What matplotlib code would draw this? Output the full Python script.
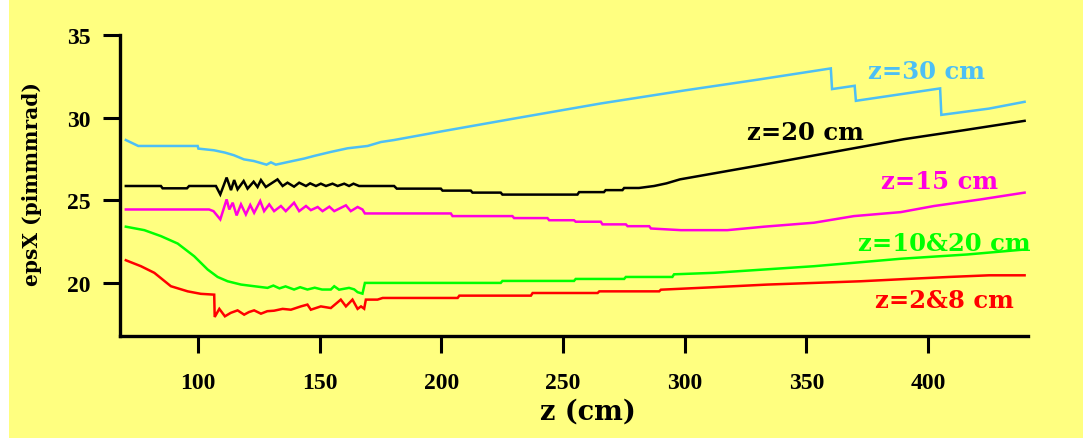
import matplotlib
matplotlib.use("Agg")
import matplotlib.pyplot as plt
from matplotlib.patches import Rectangle

# values
z30_x = [70.4, 75.5, 99.9, 100.2, 106.6, 111.1, 114.8, 118.9, 123.0, 128.2, 130.0, 132.0,
         138.9, 143.7, 147.8, 154.6, 161.5, 169.7, 175.2, 180.6, 200.0, 230.0, 265.5,
         300.0, 330.0, 360.0, 360.5, 369.8, 370.3, 404.9, 405.4, 425.0, 439.6]
z30_y = [28.65, 28.29, 28.29, 28.13, 28.03, 27.89, 27.73, 27.48, 27.38, 27.16, 27.30, 27.16,
         27.38, 27.53, 27.69, 27.93, 28.15, 28.29, 28.53, 28.65, 29.17, 29.95, 30.86,
         31.65, 32.30, 32.98, 31.73, 31.93, 31.02, 31.77, 30.17, 30.55, 30.96]

z20_x = [70.4, 84.8, 85.5, 95.5, 96.4, 107.4, 109.2, 111.8, 113.6, 114.9, 116.3, 118.8,
         120.4, 122.9, 124.5, 125.9, 127.9, 132.7, 134.8, 136.8, 139.5, 141.6, 144.4,
         146.1, 148.5, 150.5, 152.6, 155.3, 157.4, 160.1, 162.1, 163.9, 166.2, 180.6,
         181.7, 199.8, 200.5, 212.1, 212.8, 224.4, 225.1, 255.9, 256.6, 266.8, 267.5,
         274.4, 275.1, 281.2, 287.4, 292.5, 298.0, 330.0, 360.0, 390.0, 415.0, 439.6]
z20_y = [25.87, 25.87, 25.73, 25.73, 25.87, 25.87, 25.36, 26.38, 25.62, 26.23, 25.67, 26.17,
         25.71, 26.13, 25.81, 26.23, 25.81, 26.27, 25.87, 26.07, 25.83, 26.07, 25.87,
         26.03, 25.87, 26.01, 25.87, 26.01, 25.87, 26.01, 25.87, 26.01, 25.87, 25.87,
         25.71, 25.71, 25.59, 25.59, 25.47, 25.47, 25.35, 25.35, 25.50, 25.50, 25.62,
         25.62, 25.75, 25.75, 25.87, 26.03, 26.27, 27.10, 27.90, 28.70, 29.25, 29.81]

z15_x = [70.4, 104.6, 106.4, 109.2, 111.8, 112.9, 114.3, 115.9, 117.7, 119.7, 121.5,
         123.1, 125.6, 127.2, 129.3, 131.3, 134.1, 136.1, 139.5, 141.6, 144.4, 146.4,
         149.2, 151.2, 154.0, 156.0, 160.8, 162.8, 165.6, 167.6, 168.6, 203.9, 204.6,
         229.2, 229.9, 243.6, 244.3, 254.5, 255.2, 265.5, 266.2, 275.8, 276.5, 285.4,
         286.1, 298.4, 317.5, 332.6, 353.1, 369.5, 388.7, 402.4, 421.6, 439.6]
z15_y = [24.45, 24.45, 24.35, 23.85, 25.06, 24.45, 24.86, 24.09, 24.76, 24.15, 24.72,
         24.25, 24.96, 24.35, 24.76, 24.35, 24.66, 24.35, 24.86, 24.35, 24.66, 24.41,
         24.60, 24.35, 24.62, 24.35, 24.70, 24.35, 24.60, 24.45, 24.21, 24.21, 24.05,
         24.05, 23.93, 23.93, 23.80, 23.80, 23.71, 23.71, 23.55, 23.55, 23.44, 23.44,
         23.30, 23.20, 23.20, 23.41, 23.65, 24.05, 24.29, 24.66, 25.06, 25.47]

z10_x = [70.4, 78.0, 84.8, 91.7, 98.5, 104.0, 108.1, 112.2, 117.7, 123.1, 128.6, 131.0,
         133.5, 136.0, 139.5, 142.0, 145.0, 148.0, 151.0, 154.6, 156.0, 158.0, 162.1,
         164.2, 165.6, 167.6, 168.6, 224.4, 225.1, 254.5, 255.2, 275.1, 275.8, 294.9,
         295.6, 312.0, 353.1, 388.7, 416.1, 439.6]
z10_y = [23.41, 23.20, 22.84, 22.39, 21.62, 20.82, 20.37, 20.11, 19.91, 19.81, 19.71, 19.85,
         19.68, 19.80, 19.61, 19.75, 19.61, 19.72, 19.61, 19.61, 19.81, 19.60, 19.71,
         19.62, 19.45, 19.36, 20.01, 20.01, 20.13, 20.13, 20.25, 20.25, 20.37, 20.37,
         20.53, 20.62, 21.02, 21.47, 21.73, 22.03]

z2_x = [70.4, 76.6, 82.1, 88.9, 95.8, 101.2, 106.7, 106.9, 108.8, 111.1, 113.5, 116.3,
        119.0, 121.0, 123.1, 125.9, 128.5, 131.3, 134.8, 138.2, 142.3, 145.0, 146.4,
        150.5, 154.6, 158.7, 160.8, 163.5, 165.6, 167.0, 168.3, 169.0, 173.8, 175.9,
        206.7, 207.4, 236.8, 237.5, 264.2, 264.9, 289.5, 290.2, 312.0, 334.0, 372.3,
        391.4, 408.6, 425.0, 439.6]
z2_y = [21.38, 21.02, 20.62, 19.81, 19.50, 19.35, 19.30, 17.95, 18.44, 17.99, 18.20, 18.35,
        18.09, 18.25, 18.35, 18.15, 18.30, 18.33, 18.44, 18.39, 18.59, 18.70, 18.39,
        18.59, 18.49, 19.00, 18.59, 19.00, 18.44, 18.59, 18.45, 19.00, 19.00, 19.10,
        19.10, 19.24, 19.24, 19.40, 19.40, 19.50, 19.50, 19.60, 19.75, 19.91, 20.11,
        20.25, 20.37, 20.47, 20.47]

series = [
    (z30_x, z30_y, "#4dbff5", "z=30 cm", 375.2, 32.82),
    (z20_x, z20_y, "black", "z=20 cm", 325.5, 29.12),
    (z15_x, z15_y, "#ff00e0", "z=15 cm", 380.5, 26.15),
    (z10_x, z10_y, "#00ff00", "z=10&20 cm", 371.0, 22.45),
    (z2_x, z2_y, "#ff0000", "z=2&8 cm", 378.0, 19.0),
]

x_ticks = [100, 150, 200, 250, 300, 350, 400]
y_ticks = [20, 25, 30, 35]

W, H = 1083, 439
yellow = "#ffff80"
fig = plt.figure(figsize=(W / 100, H / 100), dpi=100)
fig.patch.set_facecolor(yellow)
# thin white strip at the left edge
fig.patches.append(Rectangle((0, 0), 9 / W, 1, transform=fig.transFigure,
                             facecolor="white", edgecolor="none", zorder=-1))

ax = fig.add_axes([120 / W, 1 - 337 / H, (1028 - 120) / W, (337 - 36) / H])
ax.set_facecolor("none")
ax.set_zorder(2)
font = "DejaVu Serif"
tick_font = "Liberation Serif"

for xs, ys, col, lab, tx, ty in series:
    ax.plot(xs, ys, color=col, lw=1.8, solid_joinstyle="miter")
    ax.text(tx, ty, lab, color=col, fontsize=17.5, fontweight="bold", family=font,
            ha="left", va="center")

ax.set_xlim(68, 441)
ax.set_ylim(16.8, 35)
ax.set_xticks(x_ticks)
ax.set_yticks(y_ticks)
for s in ["top", "right"]:
    ax.spines[s].set_visible(False)
for s in ["left", "bottom"]:
    ax.spines[s].set_linewidth(2.4)
ax.tick_params(direction="out", length=12, width=2.2, labelsize=17, pad=9)
ax.tick_params(axis="x", pad=14)
for t in ax.get_xticklabels() + ax.get_yticklabels():
    t.set_fontfamily(tick_font)
    t.set_fontweight("bold")

fig.text(588 / W, 1 - 412 / H, "z (cm)", fontsize=19.5, fontweight="bold", family=font,
         ha="center", va="center")
fig.text(32 / W, 1 - 184 / H, "epsX (pimmmrad)", fontsize=14.5, fontweight="bold",
         family=font, rotation=90, ha="center", va="center")

fig.savefig("out.png", dpi=100, facecolor=fig.get_facecolor())
